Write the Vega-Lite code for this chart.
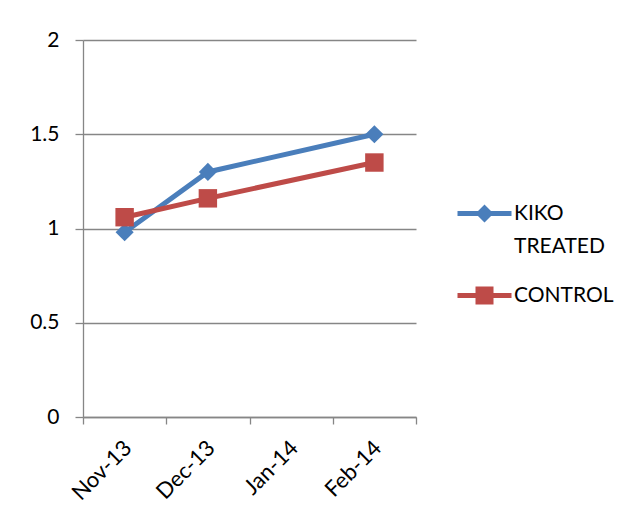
{
  "$schema": "https://vega.github.io/schema/vega-lite/v6.json",
  "width": 333,
  "height": 377,
  "autosize": {"type": "none"},
  "padding": {"left": 83, "top": 40, "right": 225, "bottom": 108},
  "background": "white",
  "config": {
    "view": {"stroke": null},
    "font": "Lato",
    "axis": {"labelFont": "Lato", "labelColor": "#000000", "domainColor": "#868686", "tickColor": "#868686", "gridColor": "#868686", "domainWidth": 1.3, "tickWidth": 1.3, "gridWidth": 1.3}
  },
  "data": {
    "values": [
      {"month": "Nov-13", "series": "KIKO TREATED", "value": 0.98},
      {"month": "Dec-13", "series": "KIKO TREATED", "value": 1.30},
      {"month": "Feb-14", "series": "KIKO TREATED", "value": 1.50},
      {"month": "Nov-13", "series": "CONTROL", "value": 1.06},
      {"month": "Dec-13", "series": "CONTROL", "value": 1.16},
      {"month": "Feb-14", "series": "CONTROL", "value": 1.35}
    ]
  },
  "encoding": {
    "x": {
      "field": "month", "type": "ordinal", "title": null,
      "sort": ["Nov-13", "Dec-13", "Jan-14", "Feb-14"],
      "scale": {"domain": ["Nov-13", "Dec-13", "Jan-14", "Feb-14"], "paddingInner": 0, "paddingOuter": 0},
      "axis": {"tickBand": "extent", "labelAngle": -45, "labelAlign": "right", "labelBaseline": "middle", "labelFontSize": 22, "labelPadding": 20, "labelOffset": 3, "tickSize": 7, "grid": false}
    },
    "y": {
      "field": "value", "type": "quantitative", "title": null,
      "scale": {"domain": [0, 2], "nice": false},
      "axis": {"values": [0, 0.5, 1, 1.5, 2], "format": "~g", "labelFontSize": 21, "tickSize": 8, "labelPadding": 16, "grid": true, "labelFlush": false}
    },
    "color": {
      "field": "series", "type": "nominal",
      "scale": {"domain": ["KIKO TREATED", "CONTROL"], "range": ["#4A7EBB", "#BE4B48"]},
      "legend": {
        "title": null,
        "orient": "none",
        "legendX": 391,
        "legendY": 163,
        "symbolSize": 324,
        "symbolType": "M-3,-0.28 H3 V0.28 H-3 Z M0,-1 L1,0 L0,1 L-1,0 Z",
        "labelFontSize": 21,
        "labelFont": "Lato",
        "labelColor": "#000000",
        "labelOffset": 19,
        "labelBaseline": "middle",
        "rowPadding": 27,
        "labelExpr": "datum.label == 'KIKO TREATED' ? ['KIKO', 'TREATED'] : datum.label",
        "encode": {
          "symbols": {
            "update": {
              "shape": {"signal": "datum.value == 'CONTROL' ? 'M-3,-0.28 H3 V0.28 H-3 Z M-1,-1 H1 V1 H-1 Z' : 'M-3,-0.28 H3 V0.28 H-3 Z M0,-1 L1,0 L0,1 L-1,0 Z'"},
              "fill": {"scale": "color", "field": "value"},
              "fillOpacity": {"value": 1},
              "strokeWidth": {"value": 0}
            }
          },
          "labels": {"update": {"lineHeight": {"value": 33}}}
        }
      }
    }
  },
  "layer": [
    {"mark": {"type": "line", "strokeWidth": 5}},
    {
      "transform": [{"filter": "datum.series == 'KIKO TREATED'"}],
      "mark": {"type": "point", "filled": true, "opacity": 1, "size": 330, "shape": "diamond"}
    },
    {
      "transform": [{"filter": "datum.series == 'CONTROL'"}],
      "mark": {"type": "point", "filled": true, "opacity": 1, "size": 340, "shape": "square"}
    }
  ]
}
